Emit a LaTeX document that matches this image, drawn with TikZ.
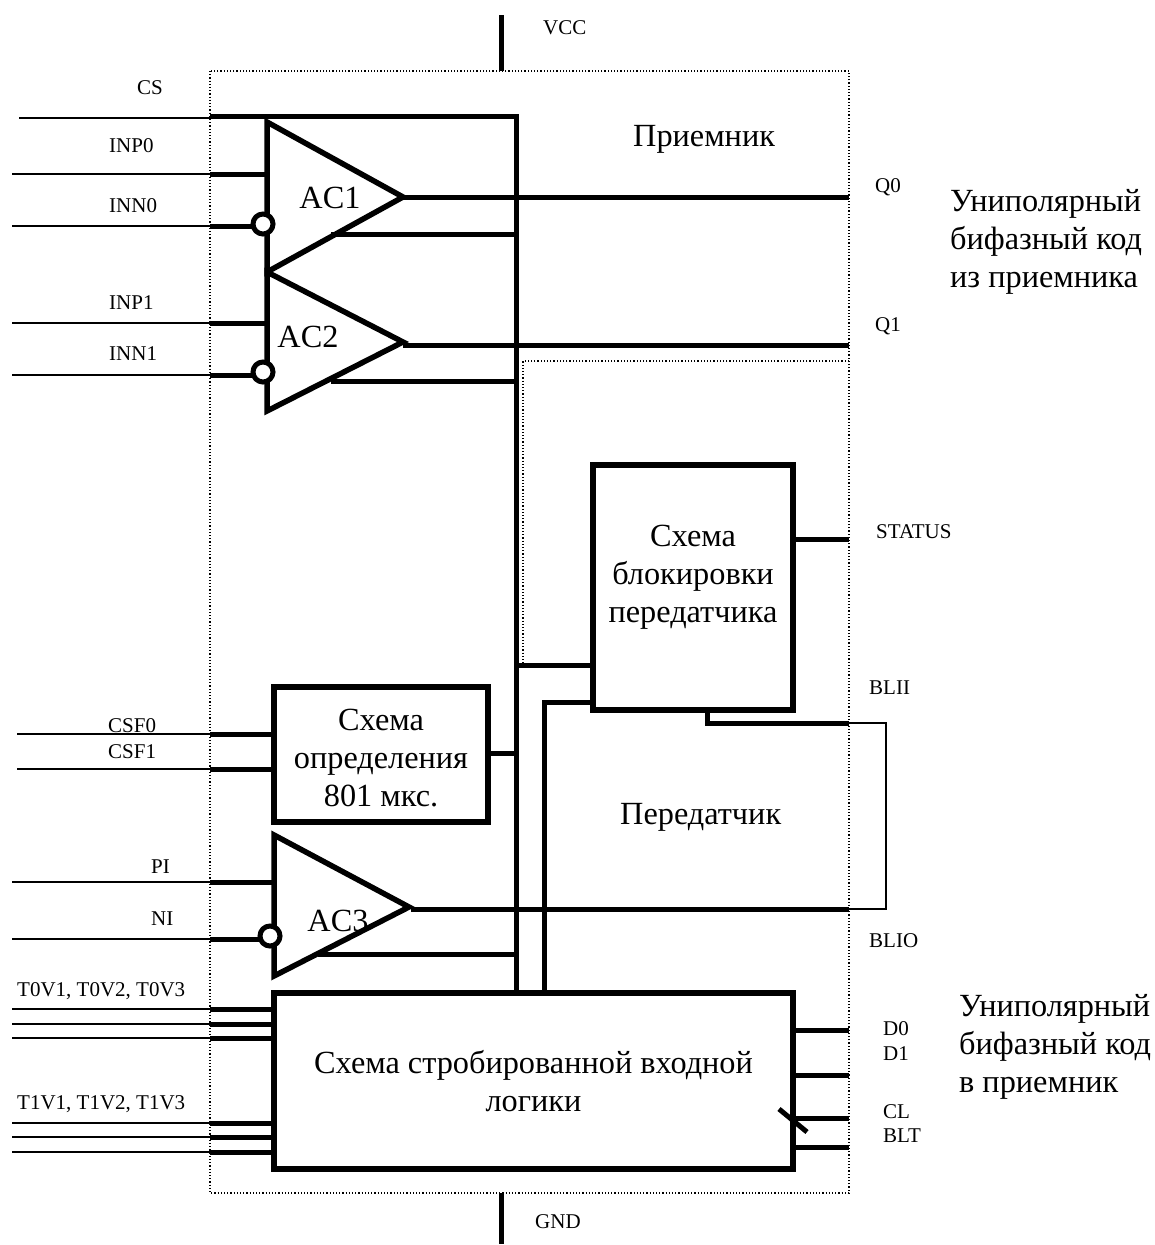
\documentclass[tikz,border=0pt]{standalone}
\usepackage{fontspec}
\setmainfont{Liberation Serif}
\begin{document}
\begin{tikzpicture}[x=1pt,y=-1pt,
  wire/.style={line width=5pt,line cap=butt,line join=miter},
  thin wire/.style={line width=1.8pt},
  outline/.style={line width=1.2pt,dash pattern=on 1.2pt off 2pt},
  blockbox/.style={draw,line width=5.5pt,inner sep=0pt,align=center,font=\bigtxt},
  amp/.style={line width=5.5pt,line join=miter,miter limit=10},
  bubble/.style={circle,draw,fill=white,line width=5pt,minimum size=20pt,inner sep=0pt},
  big/.style={font=\bigtxt,align=left,inner sep=0pt},
  small/.style={font=\smalltxt,inner sep=0pt}]
\newcommand{\bigtxt}{\fontsize{32.3}{38}\selectfont}
\newcommand{\smalltxt}{\fontsize{21}{24}\selectfont}
\useasboundingbox (0,0) rectangle (1155,1245);

% outer and inner dotted frames
\coordinate (fTL) at (210,71); \coordinate (fBR) at (849,1193);
\draw[outline] (fTL) rectangle (fBR);
\coordinate (iA) at (849,361); \coordinate (iB) at (523,361); \coordinate (iC) at (523,665);
\draw[outline] (iA) -- (iB) -- (iC);

% supply
\coordinate (vccA) at (501,15); \coordinate (vccB) at (501,71);
\coordinate (gndA) at (501,1193); \coordinate (gndB) at (501,1244);
\draw[wire] (vccA) -- (vccB);
\draw[wire] (gndA) -- (gndB);

% blocks
\node[blockbox,minimum width=200pt,minimum height=245pt] (lock) at (693,587.5) {Схема\\блокировки\\передатчика\\[-10pt]\mbox{}};
\node[blockbox,minimum width=214pt,minimum height=135pt] (det) at (381,754.5) {Схема\\определения\\801 мкс.\\[-44pt]\mbox{}};
\node[blockbox,minimum width=519pt,minimum height=176pt] (logic) at (533.5,1081) {Схема стробированной входной\\логики};

% amplifiers
\coordinate (a1T) at (267,122); \coordinate (a1B) at (267,272); \coordinate (a1O) at (403,197);
\coordinate (a2T) at (267,272); \coordinate (a2B) at (267,411); \coordinate (a2O) at (403,342);
\coordinate (a3T) at (274,835); \coordinate (a3B) at (274,976); \coordinate (a3O) at (409,907);
\draw[amp] (a1T) -- (a1O) -- (a1B) -- cycle;
\draw[amp] (a2T) -- (a2O) -- (a2B) -- cycle;
\draw[amp] (a3T) -- (a3O) -- (a3B) -- cycle;
\node[big] (ac1) at (330,198) {AC1};
\node[big] (ac2) at (308,337) {AC2};
\node[big] (ac3) at (338,921) {AC3};

% bus
\coordinate (csA) at (19,118); \coordinate (csB) at (210,118);
\coordinate (csC) at (210,116); \coordinate (busT) at (516,116);
\coordinate (busB) at (516,992);
\draw[thin wire] (csA) -- (csB);
\draw[wire,line join=miter] (csC) -- (busT) -- (busB);

% input pins: name / thin start / y / end x
\foreach \n/\s/\y/\e in {inpa/12/174/267,innb/12/226/254,inpc/12/323/267,innd/12/375/254,
  cse/17/734/274,csf/17/769/274,pig/12/882/274,nih/12/939/260,
  ta/12/1009/274,tb/12/1024/274,tc/12/1038/274,td/12/1123/274,te/12/1137/274,tf/12/1152/274}{
  \coordinate (\n0) at (\s,\y); \coordinate (\n1) at (210,\y); \coordinate (\n2) at (\e,\y);
  \draw[thin wire] (\n0) -- (\n1);
  \draw[wire] (\n1) -- (\n2);
}
\node[bubble] (b1) at (263,224) {};
\node[bubble] (b2) at (263,372) {};
\node[bubble] (b3) at (270,936) {};

% amplifier outputs and returns
\coordinate (q0a) at (403,197); \coordinate (q0b) at (849,197);
\coordinate (q1a) at (403,345); \coordinate (q1b) at (849,345);
\coordinate (o3a) at (411,909); \coordinate (o3b) at (849,909);
\draw[wire] (q0a) -- (q0b);
\draw[wire] (q1a) -- (q1b);
\draw[wire] (o3a) -- (o3b);
\coordinate (r1a) at (331,234); \coordinate (r1b) at (516,234);
\coordinate (r2a) at (331,381); \coordinate (r2b) at (516,381);
\coordinate (r3a) at (318,954); \coordinate (r3b) at (516,954);
\draw[wire] (r1a) -- (r1b);
\draw[wire] (r2a) -- (r2b);
\draw[wire] (r3a) -- (r3b);

% block links
\coordinate (stat) at (849,539);
\draw[wire] (lock.east |- stat) -- (stat);
\coordinate (l1) at (516,665);
\draw[wire] (l1) -- (lock.west |- l1);
\coordinate (l2a) at (544,992); \coordinate (l2b) at (544,702);
\draw[wire,line join=miter] (l2a) -- (l2b) -- (lock.west |- l2b);
\coordinate (dOut) at (516,753);
\draw[wire] (det.east |- dOut) -- (dOut);
\coordinate (blA) at (707,710); \coordinate (blB) at (707,723); \coordinate (blC) at (849,723);
\coordinate (blD) at (886,723); \coordinate (blE) at (886,909);
\draw[wire,line join=miter] (blA) -- (blB) -- (blC);
\draw[line width=1.6pt,line join=miter] (blC) -- (blD) -- (blE) -- (o3b);

% logic outputs
\foreach \n/\y in {da/1030,db/1075,dc/1118,dd/1147}{
  \coordinate (\n) at (849,\y);
  \draw[wire] (logic.east |- \n) -- (\n);
}
\coordinate (slA) at (779,1109); \coordinate (slB) at (807,1132);
\draw[wire] (slA) -- (slB);

% labels
\node[small,anchor=west] (tVcc) at (543,28) {VCC};
\node[small,anchor=west] (tGnd) at (535,1222) {GND};
\node[small,anchor=west] (tCs) at (137,88) {CS};
\node[small,anchor=west] (t1) at (109,146) {INP0};
\node[small,anchor=west] (t2) at (109,206) {INN0};
\node[small,anchor=west] (t3) at (109,303) {INP1};
\node[small,anchor=west] (t4) at (109,354) {INN1};
\node[small,anchor=west] (t5) at (108,726) {CSF0};
\node[small,anchor=west] (t6) at (108,752) {CSF1};
\node[small,anchor=west] (t7) at (151,867) {PI};
\node[small,anchor=west] (t8) at (151,919) {NI};
\node[small,anchor=west] (t9) at (17,991) {T0V1, T0V2, T0V3};
\node[small,anchor=west] (t10) at (17,1104) {T1V1, T1V2, T1V3};
\node[small,anchor=west] (t11) at (875,187) {Q0};
\node[small,anchor=west] (t12) at (875,326) {Q1};
\node[small,anchor=west] (t13) at (876,532) {STATUS};
\node[small,anchor=west] (t14) at (869,688) {BLII};
\node[small,anchor=west] (t15) at (869,941) {BLIO};
\node[small,anchor=west] (t16) at (883,1029) {D0};
\node[small,anchor=west] (t17) at (883,1054) {D1};
\node[small,anchor=west] (t18) at (883,1112) {CL};
\node[small,anchor=west] (t19) at (883,1136) {BLT};
\node[big,anchor=west] (tRx) at (633,139) {Приемник};
\node[big,anchor=west] (tTx) at (620,817) {Передатчик};
\node[big,anchor=north west] (tL1) at (950,189) {Униполярный\\бифазный код\\из приемника};
\node[big,anchor=north west] (tL2) at (959,994) {Униполярный\\бифазный код\\в приемник};
\end{tikzpicture}
\end{document}
